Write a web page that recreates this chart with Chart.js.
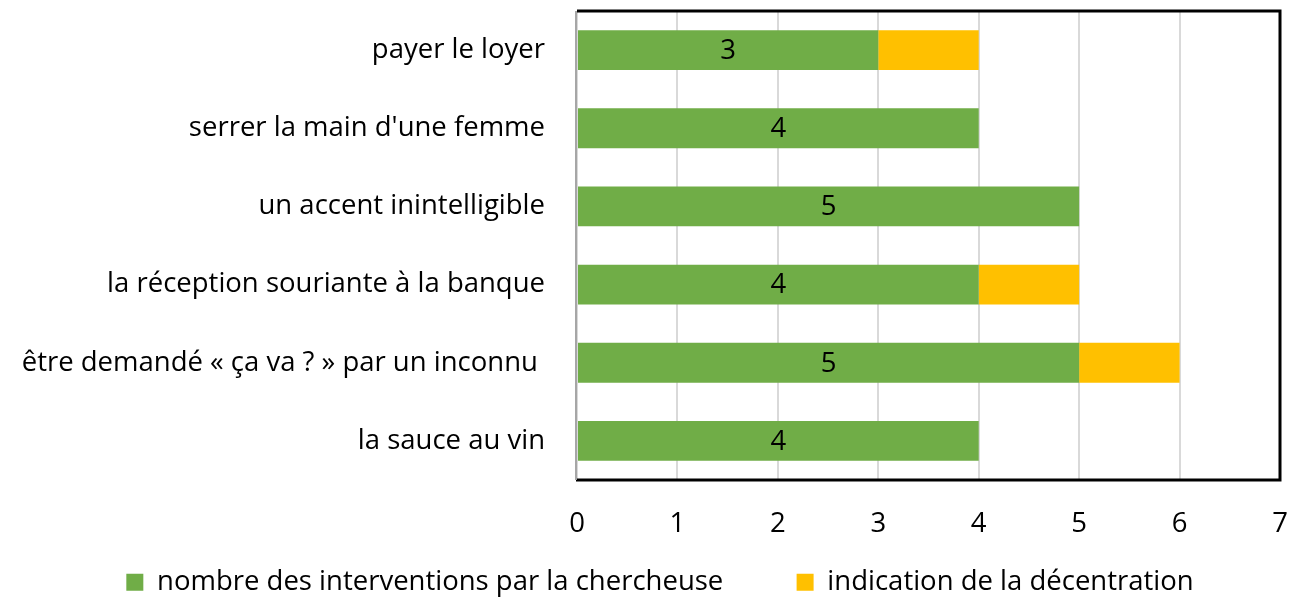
<!DOCTYPE html>
<html>
<head>
<meta charset="utf-8">
<script src="https://cdn.jsdelivr.net/npm/chart.js@4.4.0/dist/chart.umd.min.js"></script>
<style>
  html, body { margin: 0; padding: 0; background: #fff; }
  #wrap { width: 1298px; height: 601px; }
</style>
</head>
<body>
<div id="wrap"><canvas id="chart"></canvas></div>
<script>
// categories, top to bottom
const categories = [
  'payer le loyer',
  "serrer la main d'une femme",
  'un accent inintelligible',
  'la réception souriante à la banque',
  'être demandé « ça va ? » par un inconnu ',
  'la sauce au vin'
]
const interventions = [3, 4, 5, 4, 5, 4]
const decentration = [1, 0, 0, 1, 1, 0]
const xTicks = [0, 1, 2, 3, 4, 5, 6, 7]
const seriesNames = ['nombre des interventions par la chercheuse', 'indication de la décentration']

const FONT = '"Open Sans", sans-serif'
const FSIZE = 27.5
const LEGEND_PAD = 9

// spaces after the first legend entry, to get the wide gap between entries
const measure = document.createElement('canvas').getContext('2d')
measure.font = FSIZE + 'px ' + FONT
const gapSpaces = ' '.repeat(Math.round(63 / measure.measureText(' ').width))

// values written in the middle of the green bars
const barLabels = {
  id: 'barLabels',
  afterDatasetsDraw(chart) {
    const ctx = chart.ctx
    const meta = chart.getDatasetMeta(0)
    ctx.save()
    ctx.font = FSIZE + 'px ' + FONT
    ctx.fillStyle = '#000'
    ctx.textAlign = 'center'
    ctx.textBaseline = 'middle'
    meta.data.forEach((bar, i) => {
      const p = bar.getProps(['x', 'y', 'base'], true)
      ctx.fillText(String(interventions[i]), (p.x + p.base) / 2, p.y + 1)
    })
    ctx.restore()
  }
}

// black frame on top, right and bottom, grey line at left
const frame = {
  id: 'frame',
  afterLayout(chart) {
    // legend sits a little right of the canvas centre
    chart.legend.left += 40
  },
  afterDraw(chart) {
    const a = chart.chartArea
    const ctx = chart.ctx
    ctx.save()
    ctx.strokeStyle = '#000'
    ctx.lineWidth = 3
    ctx.beginPath()
    ctx.moveTo(a.left, a.top)
    ctx.lineTo(a.right, a.top)
    ctx.lineTo(a.right, a.bottom)
    ctx.lineTo(a.left - 1, a.bottom)
    ctx.stroke()
    ctx.strokeStyle = '#a6a6a6'
    ctx.lineWidth = 2
    ctx.beginPath()
    ctx.moveTo(a.left - 1, a.top)
    ctx.lineTo(a.left - 1, a.bottom)
    ctx.stroke()
    ctx.restore()
  }
}

const data = {
  labels: categories,
  datasets: [
    {
      label: seriesNames[0],
      data: interventions,
      backgroundColor: '#70ad47',
      barPercentage: 0.51,
      categoryPercentage: 1
    },
    {
      label: seriesNames[1],
      data: decentration,
      backgroundColor: '#ffc000',
      barPercentage: 0.51,
      categoryPercentage: 1
    }
  ]
}

const config = {
  type: 'bar',
  data: data,
  options: {
    indexAxis: 'y',
    responsive: true,
    maintainAspectRatio: false,
    animation: false,
    layout: { padding: { top: 11, right: 18, left: 0, bottom: -5 } },
    scales: {
      x: {
        stacked: true,
        min: 0,
        max: 7,
        afterBuildTicks(axis) { axis.ticks = xTicks.map(v => ({ value: v })) },
        afterFit(axis) {
          axis.height = 606 - (FSIZE + LEGEND_PAD + 10) - 480
          axis.paddingLeft = 0
          axis.paddingRight = 0
        },
        grid: { color: '#d9d9d9', lineWidth: 2, drawTicks: false },
        border: { display: false },
        ticks: { color: '#000', font: { family: FONT, size: FSIZE }, padding: 28 }
      },
      y: {
        stacked: true,
        afterFit(axis) {
          axis.width = 577
          axis.paddingTop = 0
          axis.paddingBottom = 0
        },
        grid: { display: false, drawTicks: false },
        border: { display: false },
        ticks: { color: '#000', font: { family: FONT, size: FSIZE }, padding: 32 }
      }
    },
    plugins: {
      legend: {
        position: 'bottom',
        labels: {
          color: '#000',
          font: { family: FONT, size: FSIZE },
          boxWidth: 17,
          boxHeight: 17,
          padding: LEGEND_PAD,
          generateLabels(chart) {
            const items = Chart.defaults.plugins.legend.labels.generateLabels(chart)
            items[0].text = items[0].text + gapSpaces
            return items
          }
        }
      },
      tooltip: { enabled: false }
    }
  },
  plugins: [barLabels, frame]
}

const myChart = new Chart(document.getElementById('chart'), config)
</script>
</body>
</html>
